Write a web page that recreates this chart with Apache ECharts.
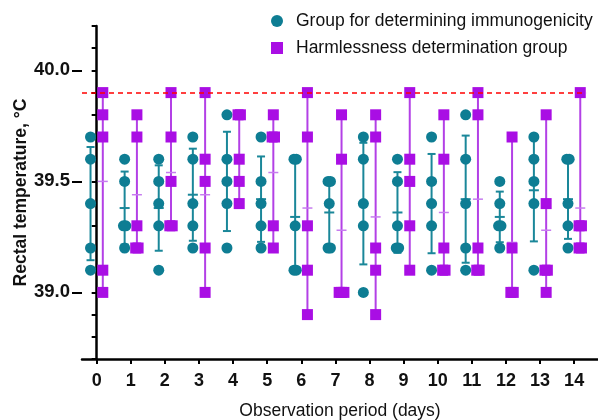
<!DOCTYPE html>
<html>
<head>
<meta charset="utf-8">
<title>Rectal temperature</title>
<script src="https://cdn.jsdelivr.net/npm/echarts@6/dist/echarts.min.js"></script>
<style>
  html, body { margin: 0; padding: 0; background: #fff; }
  #chart { width: 598px; height: 420px; }
</style>
</head>
<body>
<div id="chart"></div>
<script>
// observation days
const days = [0, 1, 2, 3, 4, 5, 6, 7, 8, 9, 10, 11, 12, 13, 14];

// individual animals, group for determining immunogenicity (mean ± SD)
const immunoTemps = [
    [39.7, 39.6, 39.4, 39.2, 39.1],
    [39.6, 39.5, 39.3, 39.3, 39.2],
    [39.6, 39.5, 39.4, 39.3, 39.1],
    [39.7, 39.6, 39.4, 39.3, 39.2],
    [39.8, 39.6, 39.5, 39.4, 39.2],
    [39.7, 39.5, 39.4, 39.3, 39.2],
    [39.6, 39.6, 39.3, 39.1, 39.1],
    [39.5, 39.5, 39.4, 39.2, 39.2],
    [39.7, 39.6, 39.4, 39.3, 39.0],
    [39.6, 39.5, 39.3, 39.2, 39.2],
    [39.7, 39.5, 39.4, 39.3, 39.1],
    [39.8, 39.6, 39.4, 39.2, 39.1],
    [39.5, 39.4, 39.3, 39.3, 39.2],
    [39.7, 39.6, 39.5, 39.4, 39.1],
    [39.6, 39.6, 39.4, 39.3, 39.2]
];

// individual animals, harmlessness determination group (mean with range)
const harmTemps = [
    [39.9, 39.8, 39.7, 39.1, 39.0],
    [39.8, 39.7, 39.3, 39.2, 39.2],
    [39.9, 39.7, 39.5, 39.3, 39.3],
    [39.9, 39.6, 39.5, 39.2, 39.0],
    [39.8, 39.8, 39.6, 39.5, 39.4],
    [39.8, 39.7, 39.7, 39.3, 39.2],
    [39.9, 39.7, 39.3, 39.1, 38.9],
    [39.8, 39.6, 39.0, 39.0, 39.0],
    [39.8, 39.7, 39.2, 39.1, 38.9],
    [39.9, 39.6, 39.5, 39.3, 39.1],
    [39.8, 39.6, 39.2, 39.1, 39.1],
    [39.9, 39.8, 39.2, 39.1, 39.1],
    [39.7, 39.2, 39.0, 39.0],
    [39.8, 39.4, 39.1, 39.1, 39.0],
    [39.9, 39.3, 39.3, 39.2, 39.2]
];

const feverLimit = 39.9;
const yLabelValues = [39.0, 39.5, 40.0];

const nameA = 'Group for determining immunogenicity';
const nameB = 'Harmlessness determination group';

const teal = '#0e7d93';
const tealLine = '#1a8799';
const purple = '#a90ee4';
const purpleLine = '#b340e6';
const purpleMean = '#c67cef';

const shiftA = -0.18;
const shiftB = 0.18;

const mean = (arr) => arr.reduce((a, b) => a + b, 0) / arr.length;
const sd = (arr) => {
    const m = mean(arr);
    return Math.sqrt(arr.reduce((a, b) => a + (b - m) * (b - m), 0) / (arr.length - 1));
};

// spread identical readings a little sideways, like the original plot
const scatterPoints = (groups, shift) => {
    let pts = [];
    groups.forEach((vals, i) => {
        let counts = {};
        vals.forEach(v => { counts[v] = (counts[v] || 0) + 1; });
        let seen = {};
        vals.forEach(v => {
            let k = seen[v] || 0;
            seen[v] = k + 1;
            let off = (k - (counts[v] - 1) / 2) * 0.07;
            pts.push([days[i] + shift + off, v]);
        });
    });
    return pts;
};

const barsA = immunoTemps.map((vals, i) => [days[i] + shiftA, mean(vals), sd(vals)]);
const barsB = harmTemps.map((vals, i) => [days[i] + shiftB, mean(vals), Math.min(...vals), Math.max(...vals)]);

const line = (x1, y1, x2, y2, stroke, w) => ({
    type: 'line',
    shape: {x1: x1, y1: y1, x2: x2, y2: y2},
    style: {stroke: stroke, lineWidth: w}
});

function renderSd(params, api) {
    const x = api.value(0), m = api.value(1), s = api.value(2);
    const c = api.coord([x, m]);
    const t = api.coord([x, m + s]);
    const b = api.coord([x, m - s]);
    return {
        type: 'group',
        children: [
            line(c[0], t[1], c[0], b[1], tealLine, 2),
            line(c[0] - 4, t[1], c[0] + 4, t[1], tealLine, 2),
            line(c[0] - 4, b[1], c[0] + 4, b[1], tealLine, 2),
            line(c[0] - 5, c[1], c[0] + 5, c[1], tealLine, 2)
        ]
    };
}

function renderRange(params, api) {
    const x = api.value(0), m = api.value(1);
    const c = api.coord([x, m]);
    const lo = api.coord([x, api.value(2)]);
    const hi = api.coord([x, api.value(3)]);
    return {
        type: 'group',
        children: [
            line(c[0], hi[1], c[0], lo[1], purpleLine, 2),
            line(c[0] - 5, c[1], c[0] + 5, c[1], purpleMean, 1.5)
        ]
    };
}

const chart = echarts.init(document.getElementById('chart'));

const option = {
    animation: false,
    textStyle: {fontFamily: 'Liberation Sans, Arial, sans-serif'},
    legend: {
        orient: 'vertical',
        left: 271,
        top: 12,
        padding: 0,
        itemWidth: 12,
        itemHeight: 12,
        itemGap: 9,
        textStyle: {fontSize: 17.5, color: '#111', padding: [0, 0, 0, 8]},
        data: [
            {name: nameA, icon: 'circle'},
            {name: nameB, icon: 'rect'}
        ]
    },
    grid: {left: 82, right: 0, top: 26, bottom: 61, containLabel: false, outerBoundsMode: 'none'},
    xAxis: {
        type: 'value',
        min: -0.43,
        max: 14.7,
        name: 'Observation period (days)',
        nameLocation: 'middle',
        nameGap: 43,
        nameTextStyle: {fontSize: 17.5, color: '#111'},
        splitLine: {show: false},
        axisLine: {lineStyle: {color: '#000', width: 2.5}},
        axisTick: {customValues: days, length: 5, lineStyle: {color: '#000', width: 2}},
        axisLabel: {
            customValues: days,
            margin: 13,
            fontSize: 18,
            fontWeight: 'bold',
            color: '#111'
        }
    },
    yAxis: [
        {
            type: 'value',
            min: 38.7,
            max: 40.2,
            interval: 0.1,
            name: 'Rectal temperature, °C',
            nameLocation: 'middle',
            nameGap: 52,
            nameTextStyle: {fontSize: 17.5, fontWeight: 'bold', color: '#111'},
            splitLine: {show: false},
            axisLine: {show: true, lineStyle: {color: '#000', width: 2.5}},
            axisTick: {length: 5, lineStyle: {color: '#000', width: 2}},
            axisLabel: {show: false}
        },
        {
            type: 'value',
            min: 38.7,
            max: 40.2,
            position: 'left',
            offset: 0,
            splitLine: {show: false},
            axisLine: {show: false},
            axisTick: {customValues: yLabelValues, length: 10, lineStyle: {color: '#000', width: 2}},
            axisLabel: {
                customValues: yLabelValues,
                formatter: (v) => v.toFixed(1),
                margin: 12,
                fontSize: 18.5,
                fontWeight: 'bold',
                color: '#111'
            }
        }
    ],
    series: [
        {
            name: nameA + ' SD',
            type: 'custom',
            renderItem: renderSd,
            data: barsA,
            z: 2,
            clip: false
        },
        {
            name: nameB + ' range',
            type: 'custom',
            renderItem: renderRange,
            data: barsB,
            z: 2,
            clip: false
        },
        {
            name: nameA,
            type: 'scatter',
            symbol: 'circle',
            symbolSize: 11,
            itemStyle: {color: teal, opacity: 1},
            data: scatterPoints(immunoTemps, shiftA),
            z: 3
        },
        {
            name: nameB,
            type: 'scatter',
            symbol: 'rect',
            symbolSize: 11,
            itemStyle: {color: purple, opacity: 1},
            data: scatterPoints(harmTemps, shiftB),
            z: 3,
            markLine: {
                silent: true,
                symbol: 'none',
                label: {show: false},
                lineStyle: {color: '#ff0000', type: [5, 4], width: 1.5},
                data: [[{coord: [-0.43, feverLimit]}, {coord: [14.35, feverLimit]}]]
            }
        }
    ]
};

chart.setOption(option);
</script>
</body>
</html>
